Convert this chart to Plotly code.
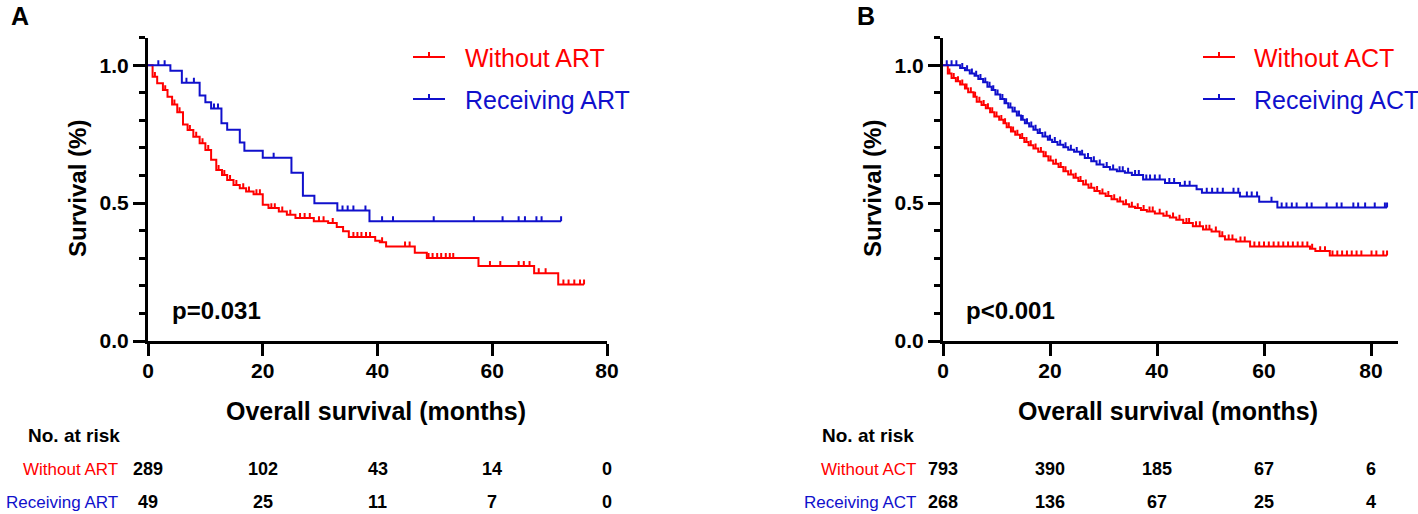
import numpy as np
import plotly.graph_objects as go

# ---------------- DATA ----------------
# Panel A : adjuvant radiotherapy (ART)
a_without_t = [0.8, 1.6, 2.6, 3.4, 4.2, 5.1, 6.1, 6.9, 7.9, 9.0, 10.0, 11.0, 11.9, 12.9, 13.8,
               14.9, 16.0, 17.1, 18.4, 20.0, 21.0, 22.8, 24.2, 25.7, 28.9, 31.4, 32.9, 34.0,
               35.0, 39.6, 40.4, 41.5, 46.5, 48.6, 57.6, 67.3, 71.5]
a_without_s = [0.958, 0.935, 0.910, 0.886, 0.858, 0.830, 0.785, 0.765, 0.741, 0.717, 0.693,
               0.657, 0.620, 0.602, 0.584, 0.566, 0.554, 0.542, 0.532, 0.494, 0.482, 0.470,
               0.458, 0.446, 0.434, 0.428, 0.413, 0.398, 0.377, 0.364, 0.358, 0.343, 0.320,
               0.301, 0.272, 0.246, 0.205]
a_without_cens = [1.2, 3.0, 4.6, 5.5, 7.3, 8.4, 9.5, 10.5, 12.3, 13.3, 14.3, 15.4, 16.6, 17.6,
                  18.9, 19.5, 21.5, 22.1, 23.4, 24.8, 26.5, 27.3, 28.2, 29.8, 30.6, 32.2, 35.8,
                  36.5, 37.2, 38.0, 38.7, 40.8, 44.8, 45.6, 48.9, 49.6, 50.4, 51.1, 51.9, 52.6,
                  53.2, 59.6, 61.4, 64.6, 65.5, 66.5, 68.1, 69.3, 72.4, 73.3, 74.3, 75.3, 76.0]

a_recv_t = [3.9, 5.9, 9.0, 10.0, 11.0, 12.8, 13.8, 16.0, 16.8, 20.0, 25.0, 27.0, 29.0, 33.0, 38.6]
a_recv_s = [0.980, 0.937, 0.890, 0.866, 0.843, 0.790, 0.766, 0.720, 0.690, 0.665, 0.610,
            0.527, 0.500, 0.473, 0.434]
a_recv_cens = [1.8, 2.9, 6.7, 8.0, 11.5, 12.2, 21.9, 33.9, 34.8, 35.8, 37.9, 40.8, 42.7,
               49.8, 56.8, 61.8, 64.6, 65.7, 67.7, 68.6, 72.0]

# Panel B : adjuvant chemotherapy (ACT)
b_without_t = [0.9, 1.6, 2.4, 3.2, 4.1, 4.7, 5.7, 6.3, 7.2, 8.0, 8.8, 9.6, 10.5, 11.3, 11.9,
               12.7, 13.5, 14.4, 15.2, 16.0, 16.9, 17.8, 18.8, 19.7, 20.6, 21.6, 22.5, 23.4,
               24.4, 25.3, 26.2, 27.2, 28.3, 29.3, 30.4, 31.5, 32.6, 33.7, 34.8, 35.9, 37.0,
               38.1, 39.6, 41.2, 42.4, 43.6, 44.9, 46.7, 48.6, 50.2, 51.7, 52.7, 54.8, 57.4,
               68.6, 69.6, 72.3]
b_without_s = [0.970, 0.954, 0.942, 0.930, 0.916, 0.902, 0.886, 0.868, 0.856, 0.844, 0.830,
               0.814, 0.802, 0.790, 0.775, 0.760, 0.748, 0.736, 0.722, 0.710, 0.698, 0.686,
               0.670, 0.655, 0.643, 0.631, 0.616, 0.604, 0.592, 0.580, 0.568, 0.556, 0.544,
               0.535, 0.526, 0.514, 0.506, 0.496, 0.487, 0.482, 0.475, 0.470, 0.462, 0.454,
               0.448, 0.440, 0.428, 0.416, 0.404, 0.397, 0.380, 0.368, 0.361, 0.343, 0.335,
               0.326, 0.310]
b_without_cens = [1.2, 2.0, 2.8, 3.6, 4.4, 5.2, 6.0, 6.8, 7.6, 8.4, 9.2, 10.0, 10.9, 11.6,
                  12.3, 13.1, 13.9, 14.8, 15.6, 16.4, 17.3, 18.3, 19.2, 20.1, 21.1, 22.0, 22.9,
                  23.9, 24.8, 25.7, 26.7, 27.7, 28.8, 29.8, 30.9, 32.0, 33.1, 34.2, 35.3, 36.4,
                  37.5, 38.6, 39.2, 40.5, 41.8, 43.0, 44.2, 45.5, 46.0, 47.3, 48.0, 49.2, 49.8,
                  51.0, 52.2, 53.4, 54.1, 55.6, 56.4, 58.2, 59.1, 60.0, 60.9, 61.8, 62.7, 63.6,
                  64.5, 65.4, 66.3, 67.2, 68.1, 69.0, 70.5, 71.4, 72.8, 73.7, 74.6, 75.5, 76.4,
                  77.3, 78.2, 80.1, 81.0, 82.3, 83.0]

b_recv_t = [3.2, 4.1, 5.0, 5.9, 6.6, 7.5, 8.3, 9.1, 9.8, 10.7, 11.5, 12.2, 13.0, 13.8, 14.6,
            15.3, 16.1, 16.9, 17.7, 18.6, 19.6, 20.4, 21.4, 22.5, 23.4, 24.5, 25.6, 26.5,
            27.7, 28.7, 30.0, 31.2, 32.5, 34.0, 35.3, 37.4, 41.5, 44.3, 47.4, 48.4, 55.5,
            59.1, 62.5]
b_recv_s = [0.990, 0.982, 0.970, 0.962, 0.950, 0.938, 0.922, 0.910, 0.894, 0.878, 0.862,
            0.847, 0.832, 0.818, 0.802, 0.790, 0.778, 0.766, 0.754, 0.742, 0.730, 0.722,
            0.712, 0.703, 0.694, 0.686, 0.676, 0.664, 0.652, 0.640, 0.631, 0.622, 0.616,
            0.610, 0.602, 0.586, 0.573, 0.563, 0.550, 0.538, 0.524, 0.505, 0.484]
b_recv_cens = [0.7, 1.6, 2.5, 3.6, 4.5, 5.4, 6.2, 7.0, 7.9, 8.7, 9.4, 10.2, 11.1, 11.8, 12.6,
               13.4, 14.2, 14.9, 15.7, 16.5, 17.3, 18.1, 19.1, 20.0, 20.9, 21.9, 22.9, 23.9,
               25.0, 26.0, 27.1, 28.2, 29.3, 30.6, 31.8, 33.0, 33.6, 34.6, 35.9, 36.6, 38.0,
               38.7, 39.6, 40.5, 42.3, 43.2, 45.2, 46.1, 49.3, 50.3, 51.3, 52.3, 54.3, 55.2,
               56.8, 57.7, 58.7, 61.4, 63.3, 64.2, 65.2, 66.1, 68.0, 68.9, 71.7, 73.6, 74.5,
               76.7, 77.6, 78.9, 80.7, 82.6, 83.0]

# Numbers at risk
risk_times = [0, 20, 40, 60, 80]
a_risk_without = [289, 102, 43, 14, 0]
a_risk_recv = [49, 25, 11, 7, 0]
b_risk_without = [793, 390, 185, 67, 6]
b_risk_recv = [268, 136, 67, 25, 4]

a_labels = ["Without ART", "Receiving ART"]
b_labels = ["Without ACT", "Receiving ACT"]
p_values = ["p=0.031", "p<0.001"]

x_ticks = [0, 20, 40, 60, 80]
y_ticks = [0.0, 0.5, 1.0]
y_ticktext = ["0.0", "0.5", "1.0"]

# ---------------- STYLE ----------------
RED = "#FF0000"
BLUE = "#1010CC"
FONT = "Liberation Sans, Arial, sans-serif"
W, H = 1418, 514
TICK_H = 0.018


def px(x):
    return x / W


def py(y):
    return 1 - y / H


def surv_at(t, times, surv):
    i = np.searchsorted(times, t, side="right") - 1
    return 1.0 if i < 0 else surv[i]


fig = go.Figure()


def add_curve(times, surv, cens, color, xa, ya):
    t_end = max(cens)
    xs = [0.0] + list(times) + [t_end]
    ys = [1.0] + list(surv) + [surv[-1]]
    fig.add_trace(go.Scatter(x=xs, y=ys, mode="lines", line=dict(color=color, width=2, shape="hv"),
                             xaxis=xa, yaxis=ya, showlegend=False, hoverinfo="skip"))
    cy = [surv_at(c, times, surv) for c in cens]
    fig.add_trace(go.Scatter(x=cens, y=cy, mode="markers",
                             marker=dict(size=1, color="rgba(0,0,0,0)"),
                             error_y=dict(type="data", symmetric=False,
                                          array=[TICK_H] * len(cens), arrayminus=[0] * len(cens),
                                          color=color, thickness=2, width=0),
                             xaxis=xa, yaxis=ya, showlegend=False, hoverinfo="skip"))


add_curve(a_without_t, a_without_s, a_without_cens, RED, "x", "y")
add_curve(a_recv_t, a_recv_s, a_recv_cens, BLUE, "x", "y")
add_curve(b_without_t, b_without_s, b_without_cens, RED, "x2", "y2")
add_curve(b_recv_t, b_recv_s, b_recv_cens, BLUE, "x2", "y2")

axis_common = dict(showgrid=False, zeroline=False, showline=True, linecolor="black", linewidth=3,
                   ticks="outside", ticklen=12, tickwidth=3, tickcolor="black", automargin=False,
                   tickfont=dict(family=FONT, size=21, color="black", weight="bold"))
minor_y = dict(dtick=0.1, tick0=0, ticks="outside", ticklen=6, tickwidth=3, tickcolor="black")

ydom = [py(341), py(37.7)]
fig.update_layout(
    width=W, height=H, margin=dict(l=0, r=0, t=0, b=0, pad=0, autoexpand=False),
    paper_bgcolor="white", plot_bgcolor="white", showlegend=False,
    xaxis=dict(domain=[px(148), px(607)], range=[0, 80], tickvals=x_ticks, anchor="y",
               ticklabelstandoff=-3, **axis_common),
    yaxis=dict(domain=ydom, range=[0, 1.1], tickvals=y_ticks, ticktext=y_ticktext, anchor="x",
               minor=minor_y, **axis_common),
    xaxis2=dict(domain=[px(943), px(943 + 85 * 5.35)], range=[0, 85], tickvals=x_ticks, anchor="y2",
                ticklabelstandoff=-3, **axis_common),
    yaxis2=dict(domain=ydom, range=[0, 1.1], tickvals=y_ticks, ticktext=y_ticktext, anchor="x2",
                minor=minor_y, **axis_common),
)

ann = []
shapes = []


def text(x, y, s, size, color="black", bold=False, xanchor="center", angle=0, xref="paper"):
    ann.append(dict(x=x, y=y, xref=xref, yref="paper", text=s, showarrow=False,
                    xanchor=xanchor, yanchor="middle", textangle=angle,
                    font=dict(family=FONT, size=size, color=color, weight="bold" if bold else "normal")))


panels = [
    dict(letter="A", lx=20, title_x=376, ylab_x=77, p_x=170, legend_x=413, text_x=463, table_label_r=120,
         nat_x=74, labels=a_labels, risks=[a_risk_without, a_risk_recv], xref="x", p=p_values[0]),
    dict(letter="B", lx=866, title_x=1168, ylab_x=872, p_x=964, legend_x=1203, text_x=1252, table_label_r=918,
         nat_x=868, labels=b_labels, risks=[b_risk_without, b_risk_recv], xref="x2", p=p_values[1]),
]
colors = [RED, BLUE]
leg_rows = [57, 99]
tab_rows = [469, 502]
for pnl in panels:
    text(px(pnl["lx"]), py(16), pnl["letter"], 25, bold=True)
    text(px(pnl["title_x"]), py(411), "Overall survival (months)", 25, bold=True)
    text(px(pnl["ylab_x"]), py(189), "Survival (%)", 24, bold=True, angle=-90)
    text(px(pnl["p_x"]), py(310), pnl["p"], 24, bold=True, xanchor="left")
    text(px(pnl["nat_x"]), py(435), "No. at risk", 19, bold=True)
    for k in range(2):
        yy = leg_rows[k]
        shapes.append(dict(type="line", xref="paper", yref="paper", x0=px(pnl["legend_x"]), x1=px(pnl["legend_x"] + 32),
                           y0=py(yy), y1=py(yy), line=dict(color=colors[k], width=2)))
        shapes.append(dict(type="line", xref="paper", yref="paper", x0=px(pnl["legend_x"] + 16), x1=px(pnl["legend_x"] + 16),
                           y0=py(yy), y1=py(yy - 5), line=dict(color=colors[k], width=2)))
        text(px(pnl["text_x"]), py(yy + 1), pnl["labels"][k], 25, color=colors[k], xanchor="left")
        text(px(pnl["table_label_r"]), py(tab_rows[k]), pnl["labels"][k], 17, color=colors[k], xanchor="right")
        for t, v in zip(risk_times, pnl["risks"][k]):
            ann.append(dict(x=t, y=py(tab_rows[k]), xref=pnl["xref"], yref="paper", text=str(v), showarrow=False,
                            xanchor="center", yanchor="middle",
                            font=dict(family=FONT, size=18, color="black", weight="bold")))

fig.update_layout(annotations=ann, shapes=shapes)
fig.write_html("out.html", config={"displayModeBar": False},
               post_script="document.body.style.margin='0px';document.body.style.overflow='hidden';")
